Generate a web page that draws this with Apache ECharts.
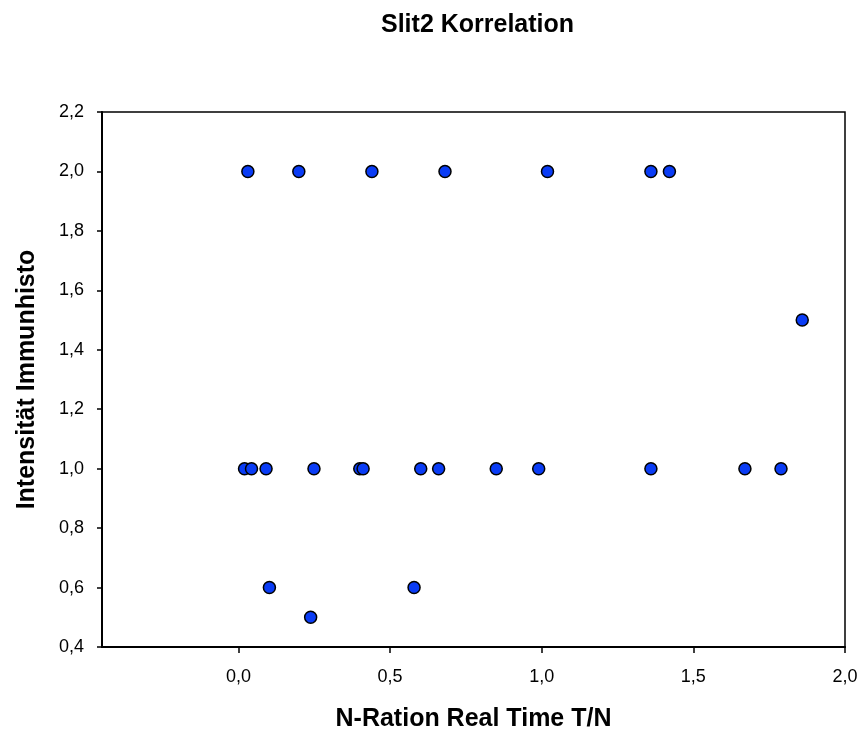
<!DOCTYPE html>
<html>
<head>
<meta charset="utf-8">
<script src="https://cdn.jsdelivr.net/npm/echarts@6/dist/echarts.min.js"></script>
<style>
  html, body { margin: 0; padding: 0; background: #fff; }
  #chart { width: 865px; height: 738px; }
</style>
</head>
<body>
<div id="chart"></div>
<script>
// N-Ration values (x) and Immunhisto intensity (y)
var ratioValues = [
  0.020, 0.043, 0.091, 0.249, 0.400, 0.411, 0.601, 0.660, 0.850, 0.990, 1.360, 1.670, 1.789,
  0.031, 0.199, 0.440, 0.681, 1.019, 1.360, 1.421,
  0.102, 0.579,
  0.238,
  1.859
];
var intensityValues = [
  1.0, 1.0, 1.0, 1.0, 1.0, 1.0, 1.0, 1.0, 1.0, 1.0, 1.0, 1.0, 1.0,
  2.0, 2.0, 2.0, 2.0, 2.0, 2.0, 2.0,
  0.6, 0.6,
  0.5,
  1.5
];
var xTicks = [0, 0.5, 1.0, 1.5, 2.0];

var points = ratioValues.map(function (x, i) {
  return [x, intensityValues[i]];
});

function commaFmt(v) {
  return Number(v).toFixed(1).replace(".", ",");
}

var chart = echarts.init(document.getElementById("chart"));

var option = {
  backgroundColor: "#fff",
  animation: false,
  title: {
    text: "Slit2 Korrelation",
    left: 376,
    top: 8,
    textStyle: {
      fontFamily: "Liberation Sans",
      fontWeight: "bold",
      fontSize: 25,
      color: "#000"
    }
  },
  grid: {
    left: 102,
    right: 20,
    top: 112,
    bottom: 91,
    show: true,
    borderColor: "#000",
    borderWidth: 1.5,
    backgroundColor: "transparent"
  },
  xAxis: {
    type: "value",
    min: -0.45,
    max: 2.0,
    name: "N-Ration Real Time T/N",
    nameLocation: "middle",
    nameGap: 60,
    nameTextStyle: {
      fontFamily: "Liberation Sans",
      fontWeight: "bold",
      fontSize: 25,
      color: "#000"
    },
    axisLine: { show: true, onZero: false, lineStyle: { color: "#000", width: 2 } },
    axisTick: {
      show: true,
      inside: false,
      length: 6,
      customValues: xTicks,
      lineStyle: { color: "#000", width: 1.5 }
    },
    axisLabel: {
      show: true,
      margin: 21,
      customValues: xTicks,
      formatter: commaFmt,
      fontFamily: "Liberation Sans",
      fontSize: 18,
      color: "#000"
    },
    splitLine: { show: false }
  },
  yAxis: {
    type: "value",
    min: 0.4,
    max: 2.2,
    interval: 0.2,
    name: "Intensität Immunhisto",
    nameLocation: "middle",
    nameGap: 62,
    nameTextStyle: {
      fontFamily: "Liberation Sans",
      fontWeight: "bold",
      fontSize: 25,
      color: "#000"
    },
    axisLine: { show: true, onZero: false, lineStyle: { color: "#000", width: 2 } },
    axisTick: {
      show: true,
      inside: false,
      length: 5,
      lineStyle: { color: "#000", width: 1.5 }
    },
    axisLabel: {
      show: true,
      margin: 18,
      formatter: commaFmt,
      fontFamily: "Liberation Sans",
      fontSize: 18,
      color: "#000"
    },
    splitLine: { show: false }
  },
  series: [
    {
      type: "scatter",
      data: points,
      symbol: "circle",
      symbolSize: 12,
      itemStyle: {
        color: "#0a3cf5",
        borderColor: "#000",
        borderWidth: 1.5,
        opacity: 1
      }
    }
  ]
};

chart.setOption(option);
</script>
</body>
</html>
